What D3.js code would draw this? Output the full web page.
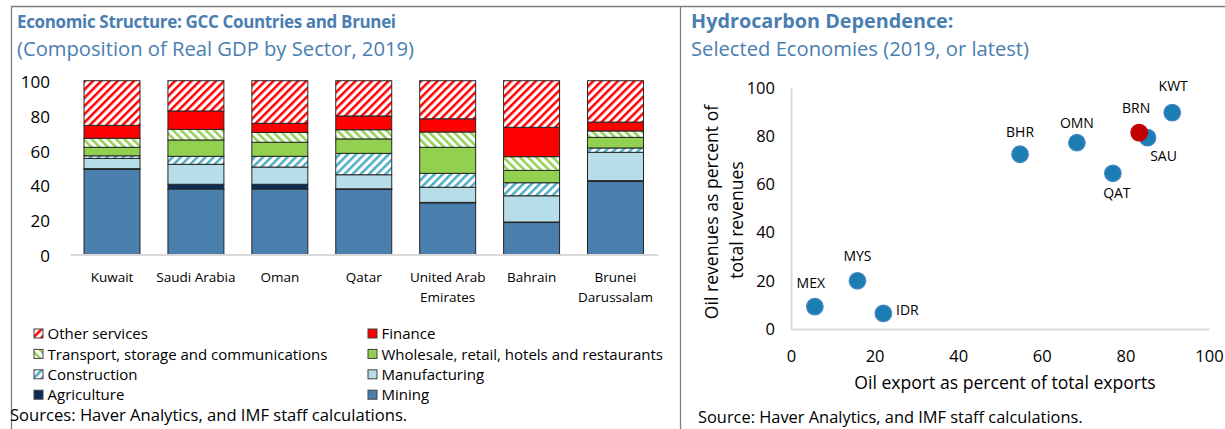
<!DOCTYPE html>
<html>
<head>
<meta charset="utf-8">
<script src="https://cdn.jsdelivr.net/npm/d3@7"></script>
<style>
  html, body { margin: 0; padding: 0; background: #fff; }
  svg { display: block; font-family: "Open Sans", "Noto Sans", sans-serif; }
</style>
</head>
<body>
<svg id="chart" width="1225" height="429"></svg>
<script>
// ---- Left panel: composition of real GDP by sector (percent) ----
const countries = ["Kuwait", "Saudi Arabia", "Oman", "Qatar", "United Arab Emirates", "Bahrain", "Brunei Darussalam"];
const countryLines = [["Kuwait"], ["Saudi Arabia"], ["Oman"], ["Qatar"], ["United Arab", "Emirates"], ["Bahrain"], ["Brunei", "Darussalam"]];

const mining        = [49.0, 37.7, 37.7, 37.5, 29.7, 18.4, 42.0];
const agriculture   = [0.4, 2.7, 2.7, 0.3, 0.3, 0.3, 0.5];
const manufacturing = [5.9, 11.5, 9.9, 8.1, 8.7, 15.1, 16.3];
const construction  = [1.5, 4.6, 6.2, 12.3, 8.0, 7.5, 2.5];
const wholesale     = [4.9, 9.4, 8.1, 8.3, 15.0, 7.1, 6.1];
const transport     = [5.2, 6.1, 5.7, 5.3, 8.8, 7.9, 3.7];
const finance       = [7.4, 10.6, 5.2, 7.9, 7.6, 16.9, 5.1];
const otherServices = [25.7, 17.4, 24.5, 20.3, 21.9, 26.8, 23.8];

const sectorNames = ["Mining", "Agriculture", "Manufacturing", "Construction",
  "Wholesale, retail, hotels and restaurants", "Transport, storage and communications",
  "Finance", "Other services"];
const sectorValues = [mining, agriculture, manufacturing, construction, wholesale, transport, finance, otherServices];
const barTicks = [0, 20, 40, 60, 80, 100];

// ---- Right panel: hydrocarbon dependence ----
const economies = ["MEX", "MYS", "IDR", "BHR", "OMN", "QAT", "SAU", "BRN", "KWT"];
const oilExportShare  = [5.7, 15.9, 22.1, 54.8, 68.4, 77.0, 85.3, 83.3, 91.2];
const oilRevenueShare = [9.3, 20.0, 6.5, 72.5, 77.3, 64.6, 79.4, 81.5, 89.8];
const scatterTicks = [0, 20, 40, 60, 80, 100];

const svg = d3.select("#chart");
const blueTitle = "#4a7eb1";

// Fill styles for each sector
const sectorStyle = {
  "Mining":        { fill: "#4a7eac" },
  "Agriculture":   { fill: "#0c2d57" },
  "Manufacturing": { fill: "#b7dde8" },
  "Construction":  { hatch: "#4bacc6", angle: 45 },
  "Wholesale, retail, hotels and restaurants": { fill: "#92d050" },
  "Transport, storage and communications":     { hatch: "#92d050", angle: -45 },
  "Finance":       { fill: "#ff0000" },
  "Other services": { hatch: "#ff0000", angle: 45 }
};

const defs = svg.append("defs");
sectorNames.forEach((name, i) => {
  const st = sectorStyle[name];
  if (st.hatch) {
    const p = defs.append("pattern")
      .attr("id", "hatch" + i)
      .attr("patternUnits", "userSpaceOnUse")
      .attr("width", 5.8).attr("height", 5.8)
      .attr("patternTransform", `rotate(${st.angle})`);
    p.append("rect").attr("width", 5.8).attr("height", 5.8).attr("fill", "#fff");
    p.append("rect").attr("width", 2.5).attr("height", 5.8).attr("fill", st.hatch);
    st.paint = `url(#hatch${i})`;
  } else {
    st.paint = st.fill;
  }
});

// Panel frames
const frame = svg.append("g").attr("fill", "none").attr("stroke", "#7f7f7f").attr("stroke-width", 1.3);
frame.append("path").attr("d", "M11.5,429 V6.5 H1225");
frame.append("path").attr("d", "M680.5,6.5 V429");

// ================= Left panel =================
const left = svg.append("g");
left.append("text").attr("x", 17).attr("y", 28)
  .attr("fill", blueTitle).attr("font-weight", "bold").attr("font-size", 17)
  .attr("letter-spacing", -0.35)
  .text("Economic Structure: GCC Countries and Brunei");
left.append("text").attr("x", 17).attr("y", 56)
  .attr("fill", blueTitle).attr("font-size", 20.2)
  .text("(Composition of Real GDP by Sector, 2019)");

const xBand = d3.scaleBand().domain(countries).range([70, 657.5])
  .paddingInner(0.333).paddingOuter(0.167);
const yBar = d3.scaleLinear().domain([0, 100]).range([254.5, 80.7]);

const table = countries.map((c, ci) => {
  const row = { country: c };
  sectorNames.forEach((s, si) => { row[s] = sectorValues[si][ci]; });
  return row;
});
const stacked = d3.stack().keys(sectorNames)(table);

// y axis labels (no line)
const yAxisL = left.append("g").attr("transform", "translate(50,0)")
  .call(d3.axisLeft(yBar).tickValues(barTicks).tickSize(0).tickPadding(0));
yAxisL.select(".domain").remove();
yAxisL.selectAll("text").attr("font-size", 17).attr("fill", "#000")
  .attr("font-family", "'Open Sans', sans-serif").attr("dy", "0.4em");

// bars
stacked.forEach((layer, si) => {
  left.append("g").selectAll("rect").data(layer).join("rect")
    .attr("x", d => xBand(d.data.country))
    .attr("width", xBand.bandwidth())
    .attr("y", d => yBar(d[1]))
    .attr("height", d => yBar(d[0]) - yBar(d[1]))
    .attr("fill", sectorStyle[sectorNames[si]].paint)
    .attr("stroke", "#262626").attr("stroke-width", 1);
});

// category axis
const xAxisL = left.append("g").attr("transform", `translate(0,${yBar(0)})`)
  .call(d3.axisBottom(xBand).tickSize(0).tickFormat(""));
xAxisL.select(".domain").attr("stroke", "#d9d9d9").attr("stroke-width", 2);
countries.forEach((c, ci) => {
  const t = left.append("text")
    .attr("x", xBand(c) + xBand.bandwidth() / 2)
    .attr("y", 282)
    .attr("text-anchor", "middle").attr("font-size", 13.5).attr("fill", "#000");
  countryLines[ci].forEach((ln, li) => {
    t.append("tspan").attr("x", xBand(c) + xBand.bandwidth() / 2)
      .attr("dy", li === 0 ? 0 : 19.5).text(ln);
  });
});

// legend: two columns, reading top-of-stack first
const legendOrder = [7, 6, 5, 4, 3, 2, 1, 0];
const legend = left.append("g");
legendOrder.forEach((si, k) => {
  const col = k % 2, row = Math.floor(k / 2);
  const gx = col === 0 ? 37 : 371;
  const gy = 334 + row * 20.4;
  legend.append("rect").attr("x", gx - 3).attr("y", gy - 5).attr("width", 9).attr("height", 9)
    .attr("fill", sectorStyle[sectorNames[si]].paint)
    .attr("stroke", "#404040").attr("stroke-width", 1);
  legend.append("text").attr("x", gx + 10.5).attr("y", gy).attr("dy", "0.35em")
    .attr("font-size", 15).attr("fill", "#000").text(sectorNames[si]);
});
left.append("text").attr("x", 10).attr("y", 415).attr("dy", "0.35em")
  .attr("font-size", 16.6).attr("fill", "#000")
  .text("Sources: Haver Analytics, and IMF staff calculations.");

// ================= Right panel =================
const right = svg.append("g");
right.append("text").attr("x", 691).attr("y", 28)
  .attr("fill", blueTitle).attr("font-weight", "bold").attr("font-size", 19.8)
  .text("Hydrocarbon Dependence:");
right.append("text").attr("x", 691).attr("y", 56)
  .attr("fill", blueTitle).attr("font-size", 20.2)
  .text("Selected Economies (2019, or latest)");

const xS = d3.scaleLinear().domain([0, 100]).range([791, 1209]);
const yS = d3.scaleLinear().domain([0, 100]).range([329, 88]);

const xAxisR = right.append("g").attr("transform", `translate(0,${yS(0)})`)
  .call(d3.axisBottom(xS).tickValues(scatterTicks).tickSize(0).tickPadding(21));
xAxisR.select(".domain").attr("stroke", "#d9d9d9").attr("stroke-width", 2);
xAxisR.selectAll("text").attr("font-size", 16.5).attr("fill", "#000")
  .attr("font-family", "'Open Sans', sans-serif");

const yAxisR = right.append("g").attr("transform", `translate(${xS(0)},0)`)
  .call(d3.axisLeft(yS).tickValues(scatterTicks).tickSize(0).tickPadding(16));
yAxisR.select(".domain").attr("stroke", "#d9d9d9").attr("stroke-width", 2);
yAxisR.selectAll("text").attr("font-size", 16.5).attr("fill", "#000")
  .attr("font-family", "'Open Sans', sans-serif");

right.append("text").attr("x", 1005).attr("y", 383).attr("dy", "0.35em")
  .attr("text-anchor", "middle").attr("font-size", 17.6).attr("fill", "#000")
  .text("Oil export as percent of total exports");
right.append("text").attr("transform", "translate(712,212) rotate(-90)").attr("dy", "0.35em")
  .attr("text-anchor", "middle").attr("font-size", 17.6).attr("fill", "#000")
  .text("Oil revenues as percent of");
right.append("text").attr("transform", "translate(737,220) rotate(-90)").attr("dy", "0.35em")
  .attr("text-anchor", "middle").attr("font-size", 17.6).attr("fill", "#000")
  .text("total revenues");

// data-label placement around each marker
const labelOffset = {
  MEX: [-4, -23], MYS: [0, -25], IDR: [24, -3], BHR: [0, -22], OMN: [0, -20],
  QAT: [4, 20], SAU: [16, 18], BRN: [-3, -24], KWT: [1, -26]
};
const points = economies.map((e, i) => ({ code: e, x: oilExportShare[i], y: oilRevenueShare[i] }));

right.append("g").selectAll("circle").data(points).join("circle")
  .attr("cx", d => xS(d.x)).attr("cy", d => yS(d.y)).attr("r", 8.3)
  .attr("fill", d => d.code === "BRN" ? "#c00000" : "#1b7db1")
  .attr("stroke", d => d.code === "BRN" ? "#c00000" : "#4a86c4").attr("stroke-width", 1.2);

right.append("g").selectAll("text").data(points).join("text")
  .attr("x", d => xS(d.x) + labelOffset[d.code][0])
  .attr("y", d => yS(d.y) + labelOffset[d.code][1])
  .attr("dy", "0.35em").attr("text-anchor", "middle")
  .attr("font-size", 14).attr("fill", "#000")
  .text(d => d.code);

right.append("text").attr("x", 698).attr("y", 417).attr("dy", "0.35em")
  .attr("font-size", 16.4).attr("fill", "#000")
  .text("Source: Haver Analytics, and IMF staff calculations.");
</script>
</body>
</html>
